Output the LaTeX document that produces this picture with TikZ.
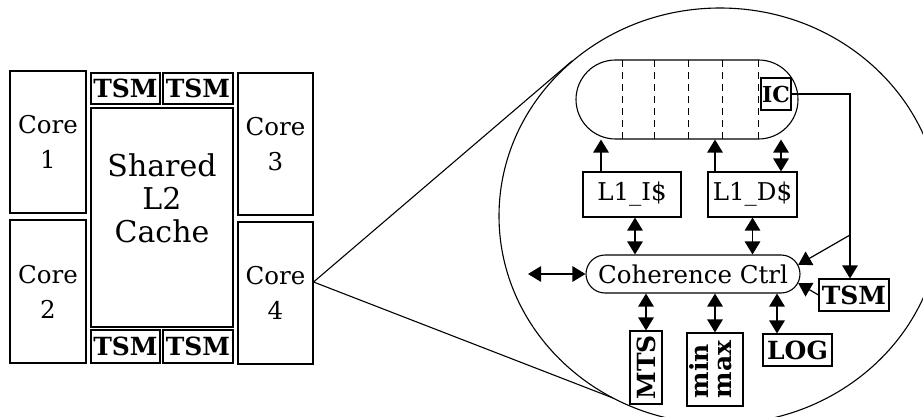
\documentclass[tikz,border=0pt]{standalone}
\usepackage{fontspec}
\setmainfont{DejaVu Serif}
\usetikzlibrary{arrows.meta,shapes.misc,calc}
\begin{document}
\begin{tikzpicture}[x=1pt,y=-1pt,
  box/.style={draw, line width=1.1pt, rectangle, inner sep=0pt, align=center},
  pillbox/.style={draw, line width=1.1pt, rounded rectangle, inner sep=0pt, align=center},
  norm/.style={font=\fontsize{24.5}{35}\selectfont},
  big/.style={font=\fontsize{30}{33}\selectfont},
  bold/.style={font=\fontsize{25}{27}\selectfont\bfseries},
  bigtri/.tip={Triangle[length=13pt,width=15.5pt]},
  arr/.style={line width=1.2pt, -bigtri},
  dbl/.style={line width=1.2pt, bigtri-bigtri},
  outline/.style={line width=1.1pt}]

\fill[white] (0,0) rectangle (923,417);
\useasboundingbox (0,0) rectangle (923,417);

% ---------- chip floor plan ----------
\node[box,norm,minimum width=76pt,minimum height=142pt] (core1) at (48,142) {Core\\1};
\node[box,norm,minimum width=76pt,minimum height=143pt] (core2) at (48,291.5) {Core\\2};
\node[box,bold,minimum width=69pt,minimum height=31pt] (tsm1) at (125.5,88.5) {TSM};
\node[box,bold,minimum width=70pt,minimum height=31pt] (tsm2) at (198,88.5) {TSM};
\node[box,big,minimum width=142pt,minimum height=219pt] (l2) at (162,217.5) {Shared\\L2\\Cache\\[6pt]};
\node[box,bold,minimum width=69pt,minimum height=33pt] (tsm3) at (125.5,346.5) {TSM};
\node[box,bold,minimum width=70pt,minimum height=33pt] (tsm4) at (198,346.5) {TSM};
\node[box,norm,minimum width=75pt,minimum height=142pt] (core3) at (275.5,144) {Core\\3};
\node[box,norm,minimum width=75pt,minimum height=142pt] (core4) at (275.5,293) {Core\\4};

% ---------- magnified view of one core ----------
\begin{scope}
  \clip (0,0) rectangle (923,417);
  \draw[outline] (720,216) ellipse [x radius=221pt, y radius=208pt];
\end{scope}
\coordinate (src) at ([yshift=11pt]core4.east);
\coordinate (tup) at (572,61);
\coordinate (tdn) at (613,398);
\draw[outline] (tup) -- (src) -- (tdn);

% pipeline with its stage dividers
\node[pillbox,minimum width=222pt,minimum height=79pt] (pipe) at (687,99.5) {};
\foreach \x in {622,654,688,722,758}
  \draw[line width=1pt, dash pattern=on 7pt off 5pt] (\x,60) -- (\x,139);
\node[box,bold,font=\fontsize{22}{24}\selectfont\bfseries,minimum width=30pt,minimum height=32pt,fill=white] (ic) at (776,94) {IC};

\node[box,norm,minimum width=98pt,minimum height=45pt] (l1i) at (632,194.5) {L1\_I\$};
\node[box,norm,minimum width=89pt,minimum height=45pt] (l1d) at (752.5,194.5) {L1\_D\$};
\node[pillbox,norm,minimum width=214pt,minimum height=38pt] (coh) at (693,274) {Coherence Ctrl};
\node[box,bold,minimum width=70pt,minimum height=32pt] (tsm5) at (854,295) {TSM};
\node[box,bold,minimum width=32pt,minimum height=73pt] (mts) at (646,367.5) {\rotatebox{90}{MTS}};
\node[box,bold,minimum width=56pt,minimum height=73pt] (mm) at (715,369.5)
  {\rotatebox{90}{\begin{tabular}{@{}l@{}}min\\[-4pt]max\end{tabular}}};
\node[box,bold,minimum width=69pt,minimum height=32pt] (log) at (797.5,350) {LOG};

% connections
\coordinate (a1) at ([xshift=-31pt]l1i.north);
\draw[arr] (a1) -- (a1 |- pipe.south);
\coordinate (a2) at ([xshift=-37.5pt]l1d.north);
\draw[arr] (a2) -- (a2 |- pipe.south);
\coordinate (a3) at ([xshift=28.5pt]l1d.north);
\draw[dbl] (a3 |- pipe.south) -- (a3);
\coordinate (a4) at ([xshift=3pt]l1i.south);
\draw[dbl] (a4) -- (a4 |- coh.north);
\draw[dbl] (l1d.south) -- (l1d.south |- coh.north);
\coordinate (ext) at (528,274);
\draw[dbl] (ext) -- (coh.west);
\coordinate (jn) at (850,235);
\draw[arr] (ic.east) -| ([xshift=-4pt]tsm5.north);
\draw[arr] (jn) -- (coh.5);
\draw[arr] (tsm5.west) -- (coh.-5);
\draw[dbl] (coh.south -| mts.north) -- (mts.north);
\draw[dbl] (coh.south -| mm.north) -- (mm.north);
\coordinate (a9) at ([xshift=-20.5pt]log.north);
\draw[dbl] (a9 |- coh.south) -- (a9);
\end{tikzpicture}
\end{document}
